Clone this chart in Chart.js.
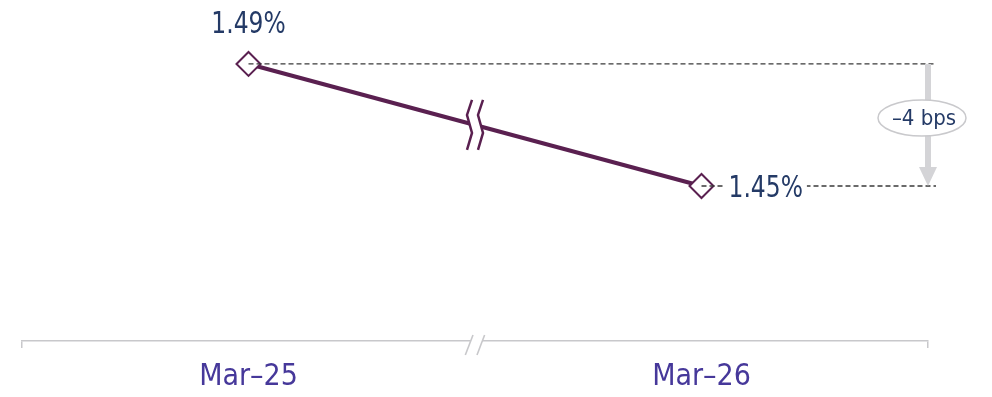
<!DOCTYPE html>
<html>
<head>
<meta charset="utf-8">
<script src="https://cdn.jsdelivr.net/npm/chart.js@4.4.1/dist/chart.umd.min.js"></script>
<style>
html, body { margin: 0; padding: 0; background: #fff; }
#wrap { width: 992px; height: 397px; }
</style>
</head>
<body>
<div id="wrap"><canvas id="rateChart"></canvas></div>
<script>
// Rate at each period end
const periods = ["Mar–25", "Mar–26"];
const rates = [1.49, 1.45];
const changeLabel = "–4 bps";

const fontFamily = "'DejaVu Sans Condensed', 'Liberation Sans Narrow', sans-serif";
const navy = "#243a66";
const plum = "#5a2050";
const axisGrey = "#c8c8cb";

Chart.defaults.font.family = fontFamily;

const fmt = v => v.toFixed(2) + "%";

// text squeezed horizontally so the figures stay narrow
function condensedText(ctx, text, x, y, align, squeeze) {
    const w = ctx.measureText(text).width * squeeze;
    const left = align === "center" ? x - w / 2 : x;
    ctx.save();
    ctx.translate(left, y);
    ctx.scale(squeeze, 1);
    ctx.textAlign = "left";
    ctx.fillText(text, 0, 0);
    ctx.restore();
    return w;
}

// Dashed guides, value labels, change arrow and break marks
const callouts = {
    id: "callouts",
    afterDatasetsDraw(chart) {
        const {ctx, chartArea} = chart;
        const pts = chart.getDatasetMeta(0).data;
        const endX = chartArea.right + 8;
        const y0 = pts[0].y, y1 = pts[1].y;
        ctx.save();

        // dashed guides from each point
        ctx.setLineDash([5, 3]);
        ctx.strokeStyle = "#3a3a3a";
        ctx.lineWidth = 1.3;
        pts.forEach(p => {
            ctx.beginPath();
            ctx.moveTo(p.x, p.y);
            ctx.lineTo(endX, p.y);
            ctx.stroke();
        });
        ctx.setLineDash([]);

        // break on the data line
        const cx = (pts[0].x + pts[1].x) / 2, cy = (y0 + y1) / 2;
        const z1 = [[-3, -25], [-8, -10], [-3, 8], [-8, 25]];
        const z2 = [[8, -25], [3, -10], [8, 8], [3, 25]];
        ctx.fillStyle = "#fff";
        ctx.beginPath();
        z1.forEach(([dx, dy], i) => i ? ctx.lineTo(cx + dx, cy + dy) : ctx.moveTo(cx + dx, cy + dy));
        z2.slice().reverse().forEach(([dx, dy]) => ctx.lineTo(cx + dx, cy + dy));
        ctx.closePath();
        ctx.fill();
        ctx.strokeStyle = plum;
        ctx.lineWidth = 2.5;
        [z1, z2].forEach(z => {
            ctx.beginPath();
            z.forEach(([dx, dy], i) => i ? ctx.lineTo(cx + dx, cy + dy) : ctx.moveTo(cx + dx, cy + dy));
            ctx.stroke();
        });

        // value labels
        ctx.font = "31px " + fontFamily;
        ctx.fillStyle = navy;
        ctx.textBaseline = "alphabetic";
        condensedText(ctx, fmt(rates[0]), pts[0].x, y0 - 31, "center", 0.84);

        const t = fmt(rates[1]);
        const w = ctx.measureText(t).width * 0.84;
        const lx = pts[1].x + 27;
        ctx.fillStyle = "#fff";
        ctx.fillRect(lx - 5, y1 - 16, w + 9, 32);
        ctx.fillStyle = navy;
        condensedText(ctx, t, lx, y1 + 11, "left", 0.84);

        // change arrow
        const ax = chartArea.right;
        ctx.strokeStyle = "#d4d4d7";
        ctx.lineWidth = 6;
        ctx.beginPath();
        ctx.moveTo(ax, y0);
        ctx.lineTo(ax, y1 - 18);
        ctx.stroke();
        ctx.fillStyle = "#d4d4d7";
        ctx.beginPath();
        ctx.moveTo(ax - 9, y1 - 19);
        ctx.lineTo(ax + 9, y1 - 19);
        ctx.lineTo(ax, y1);
        ctx.closePath();
        ctx.fill();

        // change badge
        const ex = ax - 6, ey = cy - 7;
        ctx.beginPath();
        ctx.ellipse(ex, ey, 44, 18, 0, 0, Math.PI * 2);
        ctx.fillStyle = "#fff";
        ctx.fill();
        ctx.strokeStyle = "#c9c9cc";
        ctx.lineWidth = 1.5;
        ctx.stroke();
        ctx.font = "22px " + fontFamily;
        ctx.fillStyle = navy;
        ctx.textAlign = "center";
        ctx.textBaseline = "middle";
        ctx.fillText(changeLabel, ex + 2, ey + 1);

        ctx.restore();
    },
    afterDraw(chart) {
        // break on the time axis, halfway between the two periods
        const {ctx, chartArea, scales: {x}} = chart;
        const bx = (x.getPixelForTick(0) + x.getPixelForTick(1)) / 2;
        const by = chartArea.bottom;
        ctx.save();
        ctx.fillStyle = "#fff";
        ctx.fillRect(bx - 4, by - 3, 11, 6);
        ctx.strokeStyle = axisGrey;
        ctx.lineWidth = 1.6;
        [[-9.7, -2], [2, 9.6]].forEach(([a, b]) => {
            ctx.beginPath();
            ctx.moveTo(bx + a, by + 14);
            ctx.lineTo(bx + b, by - 6);
            ctx.stroke();
        });
        ctx.restore();
    }
};

new Chart(document.getElementById("rateChart"), {
    type: "line",
    data: {
        labels: periods,
        datasets: [{
            data: rates,
            borderColor: plum,
            borderWidth: 4,
            tension: 0,
            clip: false,
            pointStyle: "rectRot",
            pointRadius: 12,
            pointBorderWidth: 2,
            pointBorderColor: plum,
            pointBackgroundColor: "#fff"
        }]
    },
    options: {
        responsive: true,
        maintainAspectRatio: false,
        animation: false,
        layout: {padding: {top: 31, left: 22, right: 64, bottom: 0}},
        plugins: {legend: {display: false}, tooltip: {enabled: false}},
        scales: {
            x: {
                offset: true,
                afterFit: s => { s.height = 56; },
                grid: {
                    offset: true,
                    drawOnChartArea: false,
                    drawTicks: true,
                    tickLength: 7,
                    lineWidth: 1.5,
                    color: c => c.index === 1 ? "rgba(0,0,0,0)" : axisGrey
                },
                border: {color: axisGrey, width: 1.5},
                ticks: {color: "#46389a", font: {size: 30}, padding: 11}
            },
            y: {display: false, min: 1.3992, max: 1.5008}
        }
    },
    plugins: [callouts]
});
</script>
</body>
</html>
